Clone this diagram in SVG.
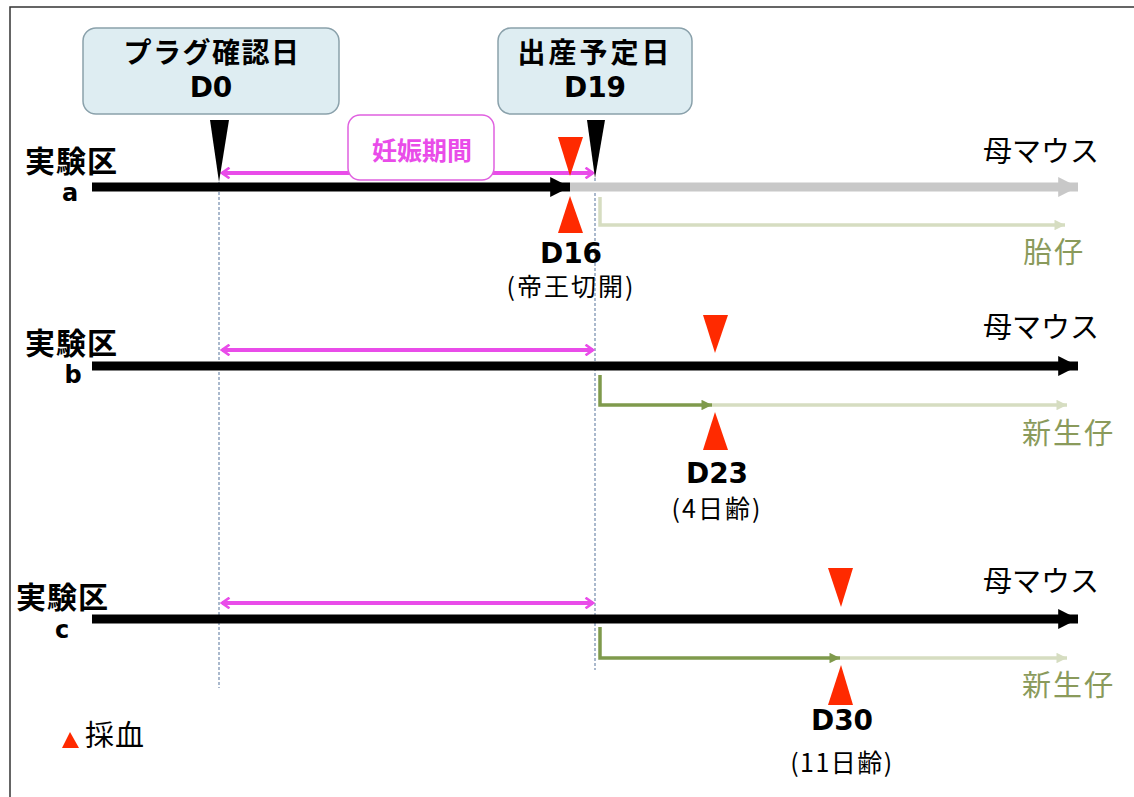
<svg xmlns="http://www.w3.org/2000/svg" width="1134" height="797" viewBox="0 0 1134 797">
<style>
text{font-family:"Noto Sans CJK JP","Noto Sans",sans-serif}
.lat{font-family:"DejaVu Sans","Noto Sans",sans-serif;font-weight:bold}
.b{font-weight:bold}
.box{fill:#deedf2;stroke:#8aa1ab;stroke-width:1.5}
.main{stroke:#000;stroke-width:9;fill:none}
.gray{stroke:#c8c8c8;stroke-width:9;fill:none}
.pink{stroke:#e94ce9;stroke-width:4;fill:none}
.dark{stroke:#7f9a4c;stroke-width:3.5;fill:none}
.pale{stroke:#d6ddc1;stroke-width:3.5;fill:none}
.dot{stroke:#8ea3bd;stroke-width:1.5;stroke-dasharray:3 2;fill:none}
.red{fill:#ff2a00}
.blk{fill:#000}
.grn{fill:#8a9a5b}
</style>
<defs>
<marker id="ab" viewBox="0 0 10 10" refX="10" refY="5" markerWidth="2.2" markerHeight="2.6" orient="auto" markerUnits="strokeWidth"><path d="M0,0L10,5L0,10z" fill="#000"/></marker>
<marker id="ag" viewBox="0 0 10 10" refX="10" refY="5" markerWidth="2.2" markerHeight="2.6" orient="auto" markerUnits="strokeWidth"><path d="M0,0L10,5L0,10z" fill="#c8c8c8"/></marker>
<marker id="ap" viewBox="0 0 12 12" refX="10" refY="6" markerWidth="3.2" markerHeight="3.2" orient="auto-start-reverse" markerUnits="strokeWidth"><path d="M3,1L10,6L3,11" fill="none" stroke="#e94ce9" stroke-width="2.4"/></marker>
<marker id="ad" viewBox="0 0 10 10" refX="10" refY="5" markerWidth="3.4" markerHeight="3" orient="auto" markerUnits="strokeWidth"><path d="M0,0L10,5L0,10z" fill="#7f9a4c"/></marker>
<marker id="al" viewBox="0 0 10 10" refX="10" refY="5" markerWidth="3.4" markerHeight="3" orient="auto" markerUnits="strokeWidth"><path d="M0,0L10,5L0,10z" fill="#d6ddc1"/></marker>
</defs>
<rect x="10" y="7" width="1140" height="800" fill="#fff" stroke="#333" stroke-width="1.5"/>

<g id="guides">
<line class="dot" x1="219" y1="182" x2="219" y2="688"/>
<line class="dot" x1="595" y1="178" x2="595" y2="670"/>
</g>

<g id="connectors">
<line class="main" x1="92" y1="187" x2="570" y2="187" marker-end="url(#ab)"/>
<line class="gray" x1="570" y1="187" x2="1078" y2="187" marker-end="url(#ag)"/>
<line class="pink" x1="222" y1="173" x2="593" y2="173" marker-start="url(#ap)" marker-end="url(#ap)"/>
<polyline class="pale" points="600,197 600,225 1065,225" marker-end="url(#al)"/>

<line class="main" x1="92" y1="366" x2="1078" y2="366" marker-end="url(#ab)"/>
<line class="pink" x1="222" y1="350" x2="593" y2="350" marker-start="url(#ap)" marker-end="url(#ap)"/>
<line class="pale" x1="712" y1="405" x2="1067" y2="405" marker-end="url(#al)"/>
<polyline class="dark" points="600,375 600,405 712,405" marker-end="url(#ad)"/>

<line class="main" x1="92" y1="619" x2="1078" y2="619" marker-end="url(#ab)"/>
<line class="pink" x1="222" y1="603" x2="593" y2="603" marker-start="url(#ap)" marker-end="url(#ap)"/>
<line class="pale" x1="840" y1="658" x2="1067" y2="658" marker-end="url(#al)"/>
<polyline class="dark" points="600,627 600,658 840,658" marker-end="url(#ad)"/>
</g>

<g id="node-d0">
<rect class="box" x="83" y="28" width="256" height="86" rx="13"/>
<text class="b" x="212" y="63" font-size="28" text-anchor="middle" letter-spacing="1.5">プラグ確認日</text>
<text class="lat" x="211" y="97" font-size="28" text-anchor="middle">D0</text>
<polygon class="blk" points="210,120 229,120 219,182"/>
</g>

<g id="node-d19">
<rect class="box" x="498" y="28" width="194" height="86" rx="13"/>
<text class="b" x="595" y="63" font-size="28" text-anchor="middle" letter-spacing="3">出産予定日</text>
<text class="lat" x="595" y="97" font-size="28" text-anchor="middle">D19</text>
<polygon class="blk" points="587,120 605,120 595,178"/>
</g>

<g id="node-pregnancy">
<rect x="348" y="115" width="146" height="65" rx="12" fill="#fff" stroke="#e060e0" stroke-width="1.5"/>
<text class="b" x="422" y="160" font-size="25" text-anchor="middle" fill="#e94ce9">妊娠期間</text>
</g>

<g id="group-a">
<text class="b" x="25" y="172" font-size="30" letter-spacing="1">実験区</text>
<text class="lat" x="70" y="201" font-size="24" text-anchor="middle">a</text>
<text x="983" y="162" font-size="29">母マウス</text>
<text class="grn" x="1023" y="263" font-size="29" letter-spacing="2">胎仔</text>
<polygon class="red" points="558,137 583,137 570,176"/>
<polygon class="red" points="570,196 583,233 558,233"/>
<text class="lat" x="571" y="263" font-size="28" text-anchor="middle">D16</text>
<text x="571" y="296" font-size="25" text-anchor="middle" letter-spacing="2">(帝王切開)</text>
</g>

<g id="group-b">
<text class="b" x="25" y="354" font-size="30" letter-spacing="1">実験区</text>
<text class="lat" x="73" y="383" font-size="24" text-anchor="middle">b</text>
<text x="983" y="338" font-size="29">母マウス</text>
<text class="grn" x="1022" y="444" font-size="29" letter-spacing="2">新生仔</text>
<polygon class="red" points="703,315 728,315 715,353"/>
<polygon class="red" points="715,412 728,450 703,450"/>
<text class="lat" x="717" y="483" font-size="28" text-anchor="middle">D23</text>
<text x="717" y="518" font-size="25" text-anchor="middle" letter-spacing="2">(4日齢)</text>
</g>

<g id="group-c">
<text class="b" x="16" y="608" font-size="30" letter-spacing="1">実験区</text>
<text class="lat" x="62" y="638" font-size="24" text-anchor="middle">c</text>
<text x="983" y="592" font-size="29">母マウス</text>
<text class="grn" x="1022" y="696" font-size="29" letter-spacing="2">新生仔</text>
<polygon class="red" points="828,568 853,568 841,607"/>
<polygon class="red" points="841,665 853,705 828,705"/>
<text class="lat" x="842" y="730" font-size="28" text-anchor="middle">D30</text>
<text x="842" y="772" font-size="25" text-anchor="middle" letter-spacing="1.5">(11日齢)</text>
</g>

<g id="legend">
<polygon class="red" points="62,748 79,748 70,732"/>
<text x="85" y="746" font-size="29" letter-spacing="1">採血</text>
</g>
</svg>
